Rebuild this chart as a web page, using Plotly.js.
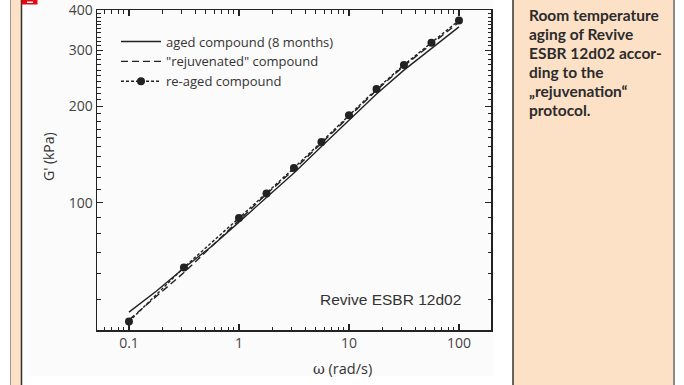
<!DOCTYPE html>
<html>
<head>
<meta charset="utf-8">
<script src="https://cdn.plot.ly/plotly-3.0.1.min.js"></script>
<style>html,body{margin:0;padding:0;background:#fff;}#chart{width:684px;height:385px;}</style>
</head>
<body>
<div id="chart"></div>
<script>
// ---- data ----
const freqLine = [0.1, 0.178, 0.316, 0.562, 1, 1.78, 3.16, 5.62, 10, 17.8, 31.6, 56.2, 100];
const agedG = [45.5, 53, 62.5, 73, 87, 104, 124, 150, 181, 219, 260, 303, 355];
const rejuvG = [43, 51, 60.5, 73, 88.5, 106.5, 127, 154, 186, 225, 268, 313, 367];
const freqReaged = [0.1, 0.316, 1, 1.78, 3.16, 5.62, 10, 17.8, 31.6, 56.2, 100];
const reagedG = [42.5, 62.8, 89.6, 107, 128.5, 155, 188, 227, 270, 317, 372];
const seriesNames = ['aged compound (8 months)', '"rejuvenated" compound', 're-aged compound'];
const xTickVals = [0.1, 1, 10, 100];
const xTickText = ['0.1', '1', '10', '100'];
const yTickVals = [100, 200, 300, 400];
const yTickText = ['100', '200', '300', '400'];
const captionLines = ['Room temperature', 'aging of Revive', 'ESBR 12d02 accor-', 'ding to the', '\u201Erejuvenation\u201C', 'protocol.'];

// ---- layout geometry ----
const W = 684, H = 385;
const L = 97, R = 491, T = 10, B = 330;
const px = x => (x - L) / (R - L);
const py = y => (B - y) / (B - T);

const xMinor = [];
[0.01, 0.1, 1, 10, 100].forEach(d => { for (let k = 2; k <= 9; k++) xMinor.push(d * k); });
const yMinor = [];
for (let v = 40; v <= 400; v += 10) if (yTickVals.indexOf(v) < 0) yMinor.push(v);

const ink = '#222';
const traces = [
  {x: freqLine, y: agedG, name: seriesNames[0], mode: 'lines', line: {color: ink, width: 1.4, dash: 'solid'}},
  {x: freqLine, y: rejuvG, name: seriesNames[1], mode: 'lines', line: {color: ink, width: 1.4, dash: '7px,4px'}},
  {x: freqReaged, y: reagedG, name: seriesNames[2], mode: 'lines+markers', line: {color: ink, width: 1.4, dash: '3px,2px'}, marker: {color: ink, size: 8, symbol: 'circle'}}
];

const peach = '#fde1c7';
const shapes = [
  {type: 'rect', xref: 'paper', yref: 'paper', x0: px(29), x1: px(493), y0: py(376), y1: py(0), fillcolor: '#fbfbfb', line: {width: 0}, layer: 'below'},
  {type: 'rect', xref: 'paper', yref: 'paper', x0: px(10.5), x1: px(21), y0: py(H), y1: py(0), fillcolor: peach, line: {width: 0}, layer: 'below'},
  {type: 'line', xref: 'paper', yref: 'paper', x0: px(10.5), x1: px(10.5), y0: py(H), y1: py(0), line: {color: '#9a9a9a', width: 1}},
  {type: 'line', xref: 'paper', yref: 'paper', x0: px(21.5), x1: px(21.5), y0: py(H), y1: py(0), line: {color: '#333', width: 1.5}},
  {type: 'rect', xref: 'paper', yref: 'paper', x0: px(21.5), x1: px(37.5), y0: py(4.5), y1: py(-1), fillcolor: '#e30613', line: {width: 0}},
  {type: 'rect', xref: 'paper', yref: 'paper', x0: px(27), x1: px(33), y0: py(3), y1: py(1.5), fillcolor: '#ffffff', line: {width: 0}},
  {type: 'rect', xref: 'paper', yref: 'paper', x0: px(513), x1: px(673), y0: py(H), y1: py(0), fillcolor: peach, line: {width: 0}, layer: 'below'},
  {type: 'line', xref: 'paper', yref: 'paper', x0: px(513), x1: px(513), y0: py(H), y1: py(0), line: {color: '#333', width: 1.5}},
  {type: 'line', xref: 'paper', yref: 'paper', x0: px(674), x1: px(674), y0: py(H), y1: py(0), line: {color: '#8a8a8a', width: 2}}
];

const capFont = {family: 'Lato, "Open Sans", sans-serif', size: 15.5, color: '#2b2b2b', weight: 'bold'};
const annotations = [
  {xref: 'paper', yref: 'paper', x: px(463), y: py(299), xanchor: 'right', yanchor: 'middle', showarrow: false,
   text: 'Revive ESBR 12d02', font: {family: '"Liberation Sans", Arial, sans-serif', size: 15.5, color: '#333'}},
  {xref: 'paper', yref: 'paper', x: px(342), y: py(368), xanchor: 'center', yanchor: 'middle', showarrow: false,
   text: '<span style="font-family:\'DejaVu Serif\',\'Liberation Serif\',serif">\u03C9</span> (rad/s)', font: {family: '"Open Sans", sans-serif', size: 14.5, color: '#333'}},
  {xref: 'paper', yref: 'paper', x: px(48), y: py(157), xanchor: 'center', yanchor: 'middle', showarrow: false, textangle: -90,
   text: "G' (kPa)", font: {family: '"Open Sans", sans-serif', size: 14, color: '#333'}}
];
captionLines.forEach((t, i) => {
  annotations.push({xref: 'paper', yref: 'paper', x: px(527), y: py(15 + i * 19), xanchor: 'left', yanchor: 'middle', showarrow: false, text: t, font: capFont});
});

const axisCommon = {
  type: 'log', showgrid: false, zeroline: false, showline: true, linecolor: ink, linewidth: 1.5,
  mirror: 'ticks', ticks: 'inside', ticklen: 6, tickwidth: 1.2, tickcolor: ink, ticklabeloverflow: 'allow',
  tickfont: {family: '"Open Sans", sans-serif', size: 14, color: '#444'}, tickmode: 'array'
};

const layout = {
  width: W, height: H,
  margin: {l: L, r: W - R, t: T, b: H - B, pad: 0},
  paper_bgcolor: '#ffffff', plot_bgcolor: 'rgba(0,0,0,0)',
  showlegend: true,
  legend: {x: px(116), y: py(26.5), xanchor: 'left', yanchor: 'top', bgcolor: 'rgba(0,0,0,0)', itemwidth: 40,
           font: {family: '"Open Sans", sans-serif', size: 13, color: '#333'}, tracegroupgap: 0},
  xaxis: Object.assign({}, axisCommon, {
    range: [Math.log10(0.0512), Math.log10(195.5)], tickvals: xTickVals, ticktext: xTickText,
    minor: {tickmode: 'array', tickvals: xMinor, ticks: 'inside', ticklen: 3.5, tickwidth: 1, tickcolor: ink}
  }),
  yaxis: Object.assign({}, axisCommon, {
    range: [Math.log10(40), Math.log10(401)], tickvals: yTickVals, ticktext: yTickText,
    minor: {tickmode: 'array', tickvals: yMinor, ticks: 'inside', ticklen: 3.5, tickwidth: 1, tickcolor: ink}
  }),
  shapes: shapes, annotations: annotations
};

Plotly.newPlot('chart', traces, layout, {displayModeBar: false, staticPlot: true});
</script>
</body>
</html>
